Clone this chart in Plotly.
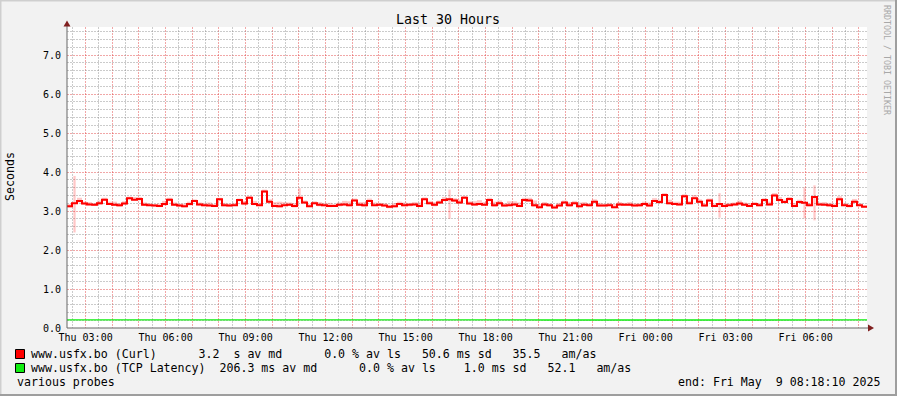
import plotly.graph_objects as go
import pandas as pd

# ---------------- data ----------------
start_time = "2025-05-08 02:18:10"
end_time = "2025-05-09 08:18:10"
step_seconds = 675  # 11.25 min per sample

curl_median = [
    3.12, 3.20, 3.26, 3.19, 3.17, 3.16, 3.20, 3.29, 3.18, 3.16, 3.15, 3.19, 3.33, 3.29, 3.31, 3.16,
    3.15, 3.14, 3.13, 3.18, 3.29, 3.16, 3.14, 3.12, 3.18, 3.26, 3.17, 3.15, 3.14, 3.13, 3.30, 3.15,
    3.14, 3.15, 3.28, 3.19, 3.34, 3.18, 3.15, 3.50, 3.24, 3.13, 3.12, 3.15, 3.16, 3.13, 3.34, 3.22,
    3.12, 3.20, 3.16, 3.15, 3.13, 3.13, 3.16, 3.17, 3.15, 3.27, 3.16, 3.15, 3.26, 3.15, 3.16, 3.14,
    3.11, 3.12, 3.18, 3.15, 3.16, 3.17, 3.13, 3.30, 3.20, 3.16, 3.22, 3.28, 3.30, 3.27, 3.22, 3.34,
    3.19, 3.17, 3.18, 3.16, 3.28, 3.15, 3.20, 3.14, 3.15, 3.17, 3.13, 3.28, 3.27, 3.15, 3.10, 3.17,
    3.15, 3.09, 3.14, 3.22, 3.15, 3.20, 3.12, 3.16, 3.15, 3.24, 3.14, 3.14, 3.15, 3.10, 3.17, 3.16,
    3.16, 3.14, 3.15, 3.18, 3.14, 3.26, 3.23, 3.41, 3.20, 3.18, 3.17, 3.38, 3.20, 3.33, 3.24, 3.14,
    3.27, 3.13, 3.18, 3.13, 3.15, 3.17, 3.19, 3.16, 3.13, 3.18, 3.15, 3.28, 3.17, 3.40, 3.28, 3.23,
    3.31, 3.13, 3.23, 3.21, 3.15, 3.36, 3.17, 3.16, 3.15, 3.13, 3.30, 3.15, 3.13, 3.24, 3.15, 3.11,
]

smoke_up = [
    0.06, 0.70, 0.08, 0.05, 0.06, 0.04, 0.07, 0.05, 0.06, 0.08, 0.05, 0.06, 0.04, 0.07, 0.05, 0.06,
    0.05, 0.04, 0.06, 0.08, 0.05, 0.06, 0.05, 0.07, 0.06, 0.04, 0.05, 0.06, 0.08, 0.05, 0.04, 0.06,
    0.05, 0.06, 0.04, 0.07, 0.05, 0.08, 0.06, 0.05, 0.06, 0.10, 0.12, 0.08, 0.06, 0.07, 0.25, 0.05,
    0.06, 0.05, 0.07, 0.06, 0.08, 0.05, 0.06, 0.09, 0.10, 0.05, 0.07, 0.08, 0.06, 0.07, 0.05, 0.06,
    0.05, 0.08, 0.06, 0.07, 0.05, 0.06, 0.09, 0.05, 0.06, 0.07, 0.05, 0.08, 0.25, 0.06, 0.07, 0.05,
    0.06, 0.08, 0.10, 0.07, 0.06, 0.09, 0.07, 0.06, 0.10, 0.08, 0.09, 0.06, 0.07, 0.12, 0.08, 0.06,
    0.05, 0.06, 0.07, 0.05, 0.08, 0.06, 0.10, 0.07, 0.05, 0.06, 0.07, 0.05, 0.06, 0.08, 0.06, 0.05,
    0.07, 0.06, 0.05, 0.06, 0.08, 0.07, 0.06, 0.05, 0.09, 0.06, 0.07, 0.05, 0.06, 0.08, 0.06, 0.05,
    0.05, 0.06, 0.28, 0.07, 0.06, 0.05, 0.08, 0.06, 0.07, 0.05, 0.06, 0.05, 0.07, 0.06, 0.08, 0.06,
    0.05, 0.07, 0.06, 0.40, 0.06, 0.30, 0.05, 0.07, 0.06, 0.05, 0.08, 0.06, 0.05, 0.07, 0.05, 0.04,
]

smoke_dn = [
    0.03, 0.75, 0.04, 0.03, 0.02, 0.03, 0.04, 0.03, 0.02, 0.03, 0.04, 0.03, 0.03, 0.02, 0.04, 0.03,
    0.02, 0.03, 0.03, 0.04, 0.03, 0.02, 0.03, 0.03, 0.04, 0.02, 0.03, 0.03, 0.02, 0.03, 0.04, 0.03,
    0.03, 0.02, 0.03, 0.04, 0.03, 0.03, 0.02, 0.03, 0.04, 0.03, 0.03, 0.02, 0.03, 0.04, 0.05, 0.03,
    0.02, 0.03, 0.04, 0.03, 0.03, 0.02, 0.04, 0.03, 0.03, 0.02, 0.03, 0.04, 0.03, 0.02, 0.03, 0.03,
    0.04, 0.03, 0.02, 0.03, 0.04, 0.03, 0.03, 0.02, 0.03, 0.04, 0.03, 0.03, 0.50, 0.04, 0.03, 0.02,
    0.03, 0.04, 0.03, 0.02, 0.03, 0.04, 0.03, 0.03, 0.02, 0.04, 0.03, 0.03, 0.02, 0.04, 0.03, 0.03,
    0.04, 0.03, 0.02, 0.03, 0.04, 0.03, 0.03, 0.02, 0.03, 0.04, 0.03, 0.03, 0.02, 0.03, 0.04, 0.03,
    0.03, 0.02, 0.04, 0.03, 0.03, 0.02, 0.04, 0.03, 0.03, 0.02, 0.03, 0.04, 0.03, 0.02, 0.03, 0.03,
    0.04, 0.03, 0.35, 0.03, 0.02, 0.03, 0.04, 0.03, 0.03, 0.02, 0.03, 0.04, 0.03, 0.02, 0.03, 0.03,
    0.04, 0.03, 0.02, 0.40, 0.03, 0.60, 0.03, 0.02, 0.04, 0.03, 0.03, 0.02, 0.04, 0.03, 0.03, 0.02,
]

# TCP latency median (seconds), one sample per hour
tcp_latency = [
    0.206, 0.207, 0.206, 0.206, 0.205, 0.206, 0.207, 0.206, 0.206, 0.206, 0.205,
    0.206, 0.207, 0.206, 0.206, 0.206, 0.207, 0.206, 0.205, 0.206, 0.206, 0.207,
    0.206, 0.206, 0.206, 0.205, 0.206, 0.206, 0.207, 0.206, 0.206,
]

tick_label_times = [
    "2025-05-08 03:00", "2025-05-08 06:00", "2025-05-08 09:00", "2025-05-08 12:00",
    "2025-05-08 15:00", "2025-05-08 18:00", "2025-05-08 21:00", "2025-05-09 00:00",
    "2025-05-09 03:00", "2025-05-09 06:00",
]
tick_labels = [
    "Thu 03:00", "Thu 06:00", "Thu 09:00", "Thu 12:00", "Thu 15:00",
    "Thu 18:00", "Thu 21:00", "Fri 00:00", "Fri 03:00", "Fri 06:00",
]
y_tick_values = [0, 1, 2, 3, 4, 5, 6, 7]
y_tick_labels = ["0.0", "1.0", "2.0", "3.0", "4.0", "5.0", "6.0", "7.0"]

title_text = "Last 30 Hours"
y_title = "Seconds"
legend_line1 = ("www.usfx.bo (Curl)      3.2  s av md      0.0 % av ls   "
                "50.6 ms sd   35.5   am/as")
legend_line2 = ("www.usfx.bo (TCP Latency)  206.3 ms av md      0.0 % av ls    "
                "1.0 ms sd   52.1   am/as")
footer_left = "various probes"
footer_right = "end: Fri May  9 08:18:10 2025"
watermark = "RRDTOOL / TOBI OETIKER"

# ---------------- figure ----------------
W, H = 897, 396
L, R, T, B = 67, 30, 27, 68
PW, PH = W - L - R, H - T - B
FONT = "DejaVu Sans Mono"
Y_MAX = 7.72


def px(x):
    return (x - L) / PW


def py(y):
    return (H - B - y) / PH


def nb(s):
    return s.replace(" ", "\u00a0")


t_curl = pd.date_range(start_time, periods=len(curl_median) + 1, freq=f"{step_seconds}s")
t_tcp = pd.date_range(start_time, periods=len(tcp_latency), freq="h")

smoke_lo = [m - d for m, d in zip(curl_median, smoke_dn)]
smoke_h = [u + d for u, d in zip(smoke_up, smoke_dn)]
step_ms = step_seconds * 1000
bar_w = [step_ms * (0.45 if h > 0.2 else 1.0) for h in smoke_h]
bar_off = [step_ms * (0.28 if h > 0.2 else 0.0) for h in smoke_h]

# ticks / grid positions
hour_ticks = pd.date_range("2025-05-08 03:00", "2025-05-09 08:00", freq="h")
half_ticks = pd.date_range("2025-05-08 02:30", "2025-05-09 07:30", freq="h")
label_map = dict(zip(pd.to_datetime(tick_label_times), tick_labels))
hour_text = [label_map.get(t, "") for t in hour_ticks]
y_minor = [round(k * 0.2, 1) for k in range(0, 39) if k % 5 != 0]

major_grid = "rgba(225,60,60,0.45)"
minor_grid = "rgba(140,140,140,0.45)"
DASH = "2px,1px"

fig = go.Figure()

# main axes (x, y): red major grid + labels; overlay axes (x2, y2): grey minor grid + data
fig.add_trace(go.Scatter(x=[], y=[], xaxis="x", yaxis="y", showlegend=False, hoverinfo="skip"))
fig.add_trace(go.Bar(
    x=t_curl[:-1], y=smoke_h, base=smoke_lo,
    width=bar_w, offset=bar_off, xaxis="x2", yaxis="y2",
    marker=dict(color="rgba(255,0,0,0.22)", line=dict(width=0)),
    hoverinfo="skip", showlegend=False,
))
fig.add_trace(go.Scatter(
    x=t_curl, y=curl_median + [curl_median[-1]], xaxis="x2", yaxis="y2",
    mode="lines", line=dict(color="#FF0000", width=2, shape="hv"),
    showlegend=False,
))
fig.add_trace(go.Scatter(
    x=t_tcp, y=tcp_latency, xaxis="x2", yaxis="y2",
    mode="lines", line=dict(color="#11EE11", width=1.3),
    showlegend=False,
))

common_x = dict(type="date", range=[start_time, end_time], showline=False, zeroline=False, ticks="")
common_y = dict(range=[0, Y_MAX], showline=False, zeroline=False, ticks="")

fig.update_layout(
    width=W, height=H,
    margin=dict(l=L, r=R, t=T, b=B),
    paper_bgcolor="#F2F2F2", plot_bgcolor="#FFFFFF",
    font=dict(family=FONT, color="#000000", size=10),
    barmode="overlay",
    showlegend=False,
    xaxis=dict(
        **common_x,
        tickmode="array", tickvals=list(hour_ticks), ticktext=hour_text,
        showgrid=True, gridcolor=major_grid, griddash=DASH, gridwidth=1,
        tickfont=dict(family=FONT, size=10, color="#000"),
        ticklabelstandoff=2,
    ),
    yaxis=dict(
        **common_y,
        tickmode="array", tickvals=y_tick_values, ticktext=y_tick_labels,
        showgrid=True, gridcolor=major_grid, griddash=DASH, gridwidth=1,
        tickfont=dict(family=FONT, size=10, color="#000"),
        ticklabelstandoff=5,
    ),
    xaxis2=dict(
        **common_x, overlaying="x", side="bottom",
        tickmode="array", tickvals=list(half_ticks), showticklabels=False,
        showgrid=True, gridcolor=minor_grid, griddash=DASH, gridwidth=1,
    ),
    yaxis2=dict(
        **common_y, overlaying="y", side="left",
        tickmode="array", tickvals=y_minor, showticklabels=False,
        showgrid=True, gridcolor=minor_grid, griddash=DASH, gridwidth=1,
    ),
)

shapes = []
# frame around the image
shapes += [
    dict(type="line", xref="paper", yref="paper", x0=px(0), x1=px(W), y0=py(0.5), y1=py(0.5),
         line=dict(color="#CFCFCF", width=2)),
    dict(type="line", xref="paper", yref="paper", x0=px(0.5), x1=px(0.5), y0=py(0), y1=py(H),
         line=dict(color="#CFCFCF", width=2)),
    dict(type="line", xref="paper", yref="paper", x0=px(0), x1=px(W), y0=py(H - 1), y1=py(H - 1),
         line=dict(color="#9E9E9E", width=2)),
    dict(type="line", xref="paper", yref="paper", x0=px(W - 1), x1=px(W - 1), y0=py(0), y1=py(H),
         line=dict(color="#9E9E9E", width=2)),
]
# axes
shapes += [
    dict(type="line", xref="paper", yref="paper", x0=px(67), x1=px(870), y0=py(328), y1=py(328),
         line=dict(color="#666666", width=1)),
    dict(type="line", xref="paper", yref="paper", x0=px(67), x1=px(67), y0=py(328), y1=py(23),
         line=dict(color="#666666", width=1)),
    dict(type="path", xref="paper", yref="paper",
         path=f"M {px(874)},{py(328)} L {px(868)},{py(324.5)} L {px(868)},{py(331.5)} Z",
         fillcolor="#801F1F", line=dict(width=0)),
    dict(type="path", xref="paper", yref="paper",
         path=f"M {px(67)},{py(20.5)} L {px(63.5)},{py(26.5)} L {px(70.5)},{py(26.5)} Z",
         fillcolor="#801F1F", line=dict(width=0)),
]
# legend boxes
shapes += [
    dict(type="rect", xref="paper", yref="paper", x0=px(15.5), x1=px(24.5), y0=py(349.5), y1=py(358.5),
         fillcolor="#FF0000", line=dict(color="#000000", width=1)),
    dict(type="rect", xref="paper", yref="paper", x0=px(15.5), x1=px(24.5), y0=py(363.5), y1=py(372.5),
         fillcolor="#11EE11", line=dict(color="#000000", width=1)),
]
fig.update_layout(shapes=shapes)

LEG = 11.6
annotations = [
    dict(text=title_text, x=px(448), y=py(19), xanchor="center", yanchor="middle",
         font=dict(family=FONT, size=13.3, color="#000")),
    dict(text=y_title, x=px(10), y=py(177), xanchor="center", yanchor="middle", textangle=-90,
         font=dict(family=FONT, size=LEG, color="#000")),
    dict(text=watermark, x=px(887), y=py(60), xanchor="center", yanchor="middle", textangle=90,
         font=dict(family=FONT, size=8.3, color="#A8A8A8")),
    dict(text=nb(legend_line1), x=px(29.5), y=py(354), xanchor="left", yanchor="middle",
         font=dict(family=FONT, size=LEG, color="#000")),
    dict(text=nb(legend_line2), x=px(29.5), y=py(368), xanchor="left", yanchor="middle",
         font=dict(family=FONT, size=LEG, color="#000")),
    dict(text=nb(footer_left), x=px(15.5), y=py(382), xanchor="left", yanchor="middle",
         font=dict(family=FONT, size=LEG, color="#000")),
    dict(text=nb(footer_right), x=px(881), y=py(382), xanchor="right", yanchor="middle",
         font=dict(family=FONT, size=LEG, color="#000")),
]
for a in annotations:
    a.update(xref="paper", yref="paper", showarrow=False, borderpad=0)
fig.update_layout(annotations=annotations)

fig.write_html("out.html")
